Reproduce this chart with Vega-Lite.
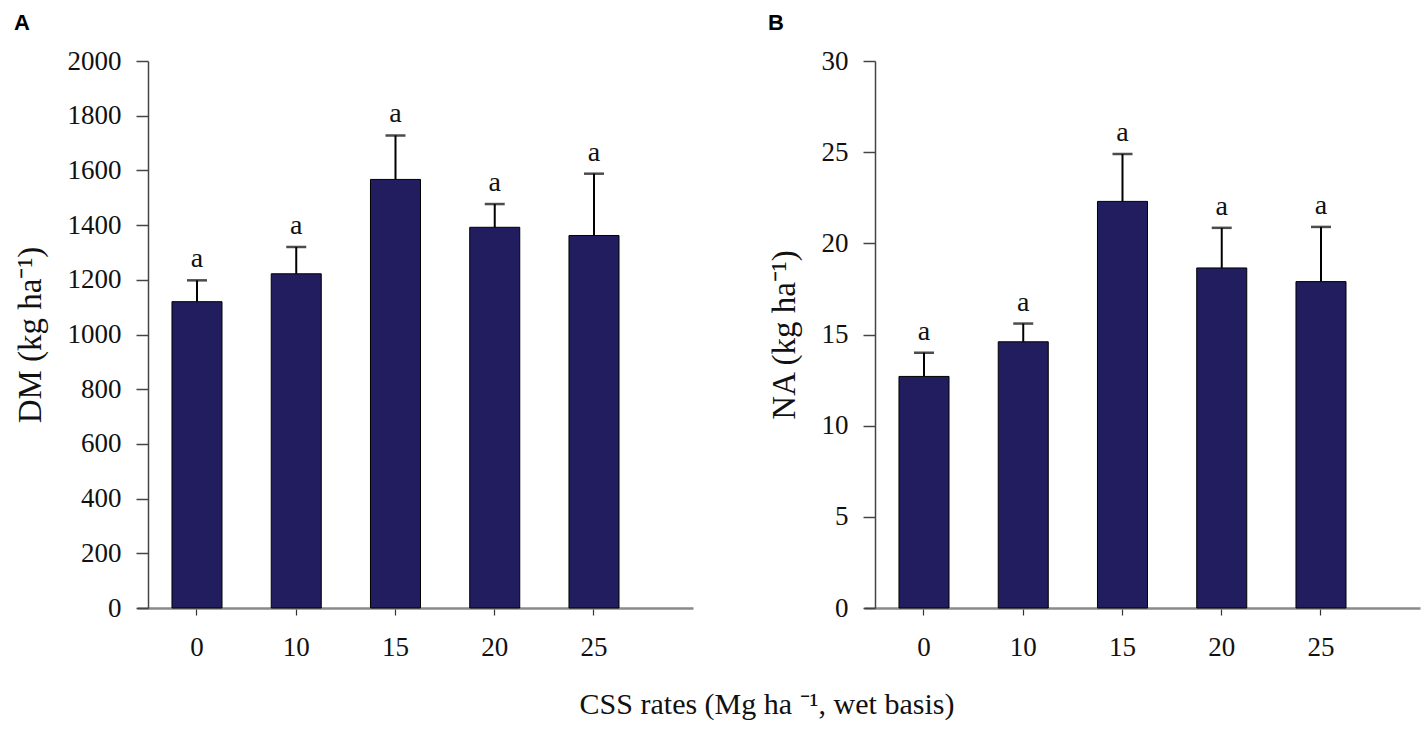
{
  "$schema": "https://vega.github.io/schema/vega-lite/v6.json",
  "description": "Dry matter (A) and nitrogen accumulation (B) for CSS application rates.",
  "background": "white",
  "padding": {"left": 14, "top": 12, "right": 4, "bottom": 10},
  "bounds": "flush",
  "spacing": 171,
  "datasets": {
    "dm": [
      {"rate": "0", "mean": 1120, "upper": 1198, "group": "a"},
      {"rate": "10", "mean": 1222, "upper": 1320, "group": "a"},
      {"rate": "15", "mean": 1567, "upper": 1728, "group": "a"},
      {"rate": "20", "mean": 1392, "upper": 1477, "group": "a"},
      {"rate": "25", "mean": 1362, "upper": 1588, "group": "a"}
    ],
    "na": [
      {"rate": "0", "mean": 12.7, "upper": 14.0, "group": "a"},
      {"rate": "10", "mean": 14.6, "upper": 15.6, "group": "a"},
      {"rate": "15", "mean": 22.3, "upper": 24.9, "group": "a"},
      {"rate": "20", "mean": 18.65, "upper": 20.85, "group": "a"},
      {"rate": "25", "mean": 17.9, "upper": 20.9, "group": "a"}
    ]
  },
  "title": {
    "text": "CSS rates (Mg ha ⁻¹, wet basis)",
    "orient": "bottom",
    "anchor": "middle",
    "font": "Liberation Serif",
    "fontSize": 30,
    "fontWeight": "normal",
    "color": "#111",
    "offset": 30,
    "dx": 50
  },
  "config": {
    "view": {"stroke": null},
    "axis": {
      "grid": false,
      "labelFont": "Liberation Serif",
      "labelFontSize": 27,
      "labelColor": "#111",
      "titleFont": "Liberation Serif",
      "titleFontSize": 33,
      "titleFontWeight": "normal",
      "titleColor": "#111"
    },
    "axisX": {
      "domainColor": "#8a8a8a",
      "domainWidth": 2.5,
      "tickColor": "#333",
      "tickWidth": 1.2,
      "tickSize": 7,
      "labelPadding": 19,
      "labelAngle": 0,
      "title": null
    },
    "axisY": {
      "domainColor": "#444",
      "domainWidth": 1.5,
      "tickColor": "#444",
      "tickWidth": 1.5,
      "tickSize": 12,
      "labelPadding": 15,
      "titlePadding": 20,
      "offset": -11,
      "format": "d"
    },
    "title": {
      "anchor": "start",
      "frame": "bounds",
      "font": "Liberation Sans",
      "fontWeight": "bold",
      "fontSize": 22,
      "color": "#000",
      "offset": 12
    }
  },
  "hconcat": [
    {
      "title": "A",
      "width": 556,
      "height": 547,
      "data": {"name": "dm"},
      "encoding": {
        "x": {
          "field": "rate",
          "type": "ordinal",
          "sort": ["0", "10", "15", "20", "25"],
          "scale": {"paddingInner": 0.496, "paddingOuter": 0.549, "align": 0.321}
        }
      },
      "layer": [
        {
          "mark": {"type": "bar", "color": "#211d5e", "stroke": "#000", "strokeWidth": 1},
          "encoding": {
            "y": {
              "field": "mean",
              "type": "quantitative",
              "title": "DM (kg ha⁻¹)",
              "scale": {"domain": [0, 2000], "nice": false},
              "axis": {"values": [0, 200, 400, 600, 800, 1000, 1200, 1400, 1600, 1800, 2000]}
            }
          }
        },
        {
          "mark": {"type": "rule", "color": "#000", "strokeWidth": 2},
          "encoding": {
            "y": {"field": "mean", "type": "quantitative"},
            "y2": {"field": "upper"}
          }
        },
        {
          "mark": {"type": "tick", "color": "#000", "size": 20, "thickness": 2.5, "orient": "horizontal"},
          "encoding": {"y": {"field": "upper", "type": "quantitative"}}
        },
        {
          "mark": {"type": "text", "font": "Liberation Serif", "fontSize": 28, "color": "#111", "baseline": "alphabetic", "dy": -13},
          "encoding": {
            "y": {"field": "upper", "type": "quantitative"},
            "text": {"field": "group"}
          }
        }
      ]
    },
    {
      "title": "B",
      "width": 556,
      "height": 547,
      "data": {"name": "na"},
      "encoding": {
        "x": {
          "field": "rate",
          "type": "ordinal",
          "sort": ["0", "10", "15", "20", "25"],
          "scale": {"paddingInner": 0.496, "paddingOuter": 0.549, "align": 0.321}
        }
      },
      "layer": [
        {
          "mark": {"type": "bar", "color": "#211d5e", "stroke": "#000", "strokeWidth": 1},
          "encoding": {
            "y": {
              "field": "mean",
              "type": "quantitative",
              "title": "NA (kg ha⁻¹)",
              "scale": {"domain": [0, 30], "nice": false},
              "axis": {"values": [0, 5, 10, 15, 20, 25, 30]}
            }
          }
        },
        {
          "mark": {"type": "rule", "color": "#000", "strokeWidth": 2},
          "encoding": {
            "y": {"field": "mean", "type": "quantitative"},
            "y2": {"field": "upper"}
          }
        },
        {
          "mark": {"type": "tick", "color": "#000", "size": 20, "thickness": 2.5, "orient": "horizontal"},
          "encoding": {"y": {"field": "upper", "type": "quantitative"}}
        },
        {
          "mark": {"type": "text", "font": "Liberation Serif", "fontSize": 28, "color": "#111", "baseline": "alphabetic", "dy": -13},
          "encoding": {
            "y": {"field": "upper", "type": "quantitative"},
            "text": {"field": "group"}
          }
        }
      ]
    }
  ]
}
